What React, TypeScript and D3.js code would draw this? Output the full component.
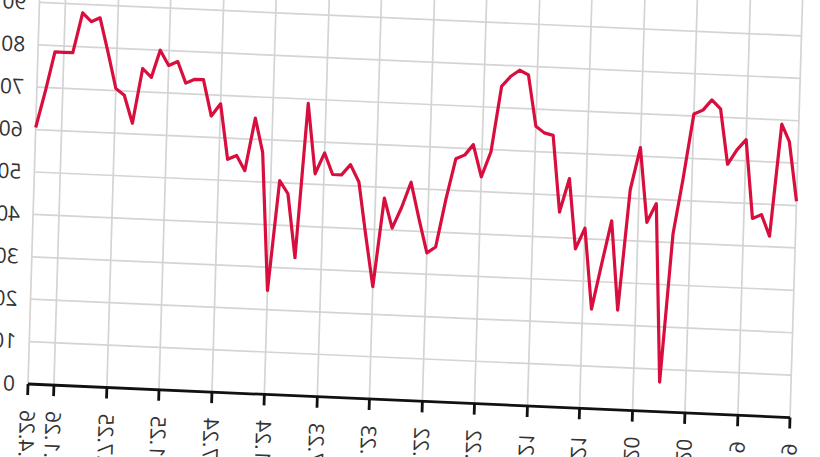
import React from 'react';
import * as d3 from 'd3';

// monthly series, first point Jan 2019, last point Apr 2026
const firstMonth = '1.1.19';
const lastMonth = '1.4.26';

const values = [
  51, 65, 69, 42.5, 47.5, 46.5, 65, 62.5, 59, 72, 74, 71.5,
  70.5, 55, 42, 7, 49, 44.5, 62, 52, 23.5, 44.5, 34, 23.5,
  42.5, 37.5, 54, 46, 64, 64.5, 66, 78, 79, 77.5, 75, 59.5,
  53.5, 61, 58.5, 57.5, 48, 36.5, 35, 43, 51.5, 45.5, 40.5, 47.5,
  26.5, 39, 51, 55, 52.5, 52.5, 57.5, 52.5, 69, 32.5, 47.5, 50.5,
  24.5, 57, 65, 52.5, 56, 55, 68, 65, 73.5, 73.5, 72.5, 77.5,
  76.5, 80, 73.5, 75.5, 62.5, 69, 70.5, 79, 87, 86, 88, 78.5,
  78.5, 78.5, 69.5, 60.5,
];

const xTickLabels = [
  '1.1.19', '1.7.19', '1.1.20', '1.7.20', '1.1.21', '1.7.21', '1.1.22', '1.7.22',
  '1.1.23', '1.7.23', '1.1.24', '1.7.24', '1.1.25', '1.7.25', '1.1.26', '1.4.26',
];

const yTicks = [0, 10, 20, 30, 40, 50, 60, 70, 80, 90, 100];

const parse = d3.timeParse('%d.%m.%y');

const App: React.FC = () => {
  const width = 820;
  const height = 457;
  const margin = { left: 28, right: 28, axisY: 384 };

  const start = parse(firstMonth)!;
  const end = parse(lastMonth)!;
  const dates = d3.timeMonth.range(start, d3.timeMonth.offset(end, 1));
  const data = values.map((v, i) => ({ date: dates[i], value: v }));

  const x = d3.scaleTime().domain([start, end]).range([margin.left, width - 2 - margin.right]);
  const y = d3.scaleLinear().domain([0, 100]).range([margin.axisY, margin.axisY - 424]);

  const line = d3
    .line<{ date: Date; value: number }>()
    .x(d => x(d.date))
    .y(d => y(d.value));

  const ticks = xTickLabels.map(t => ({ label: t, date: parse(t)! }));
  const [x0, x1] = x.range();

  return (
    <svg
      width={width}
      height={height}
      style={{ position: 'absolute', left: 0, top: 0, display: 'block', background: '#fff' }}
      fontFamily="'Open Sans', 'DejaVu Sans', sans-serif"
    >
      {/* photographed chart: slight tilt, then mirrored */}
      <g transform="matrix(1,0.044,-0.03,1,11.52,-1.232)">
        <g transform={`translate(${width - 2},0) scale(-1,1)`}>
          {yTicks.map(t => (
            <line key={`h${t}`} x1={x0} x2={x1} y1={y(t)} y2={y(t)} stroke="#d4d4d4" strokeWidth={1.7} />
          ))}
          {ticks.map(t => (
            <line key={`v${t.label}`} x1={x(t.date)} x2={x(t.date)} y1={y(0)} y2={y(100)} stroke="#d4d4d4" strokeWidth={1.7} />
          ))}

          <path d={line(data) ?? ''} fill="none" stroke="#d80f3e" strokeWidth={3.2} strokeLinejoin="round" />

          <line x1={x0} x2={x1} y1={y(0)} y2={y(0)} stroke="#111" strokeWidth={2.8} />
          {ticks.map(t => (
            <g key={`t${t.label}`} transform={`translate(${x(t.date)},${y(0)})`}>
              <line y1={0} y2={11} stroke="#111" strokeWidth={2.8} />
              <text
                transform="translate(0,26) rotate(-90)"
                textAnchor="end"
                dy="0.35em"
                fontSize={21}
                fill="#333"
              >
                {t.label}
              </text>
            </g>
          ))}

          {yTicks.map(t => (
            <text key={`l${t}`} x={x1 + 13} y={y(t)} dy="0.35em" fontSize={21} fill="#333">
              {t}
            </text>
          ))}
        </g>
      </g>
    </svg>
  );
};

export default App;
